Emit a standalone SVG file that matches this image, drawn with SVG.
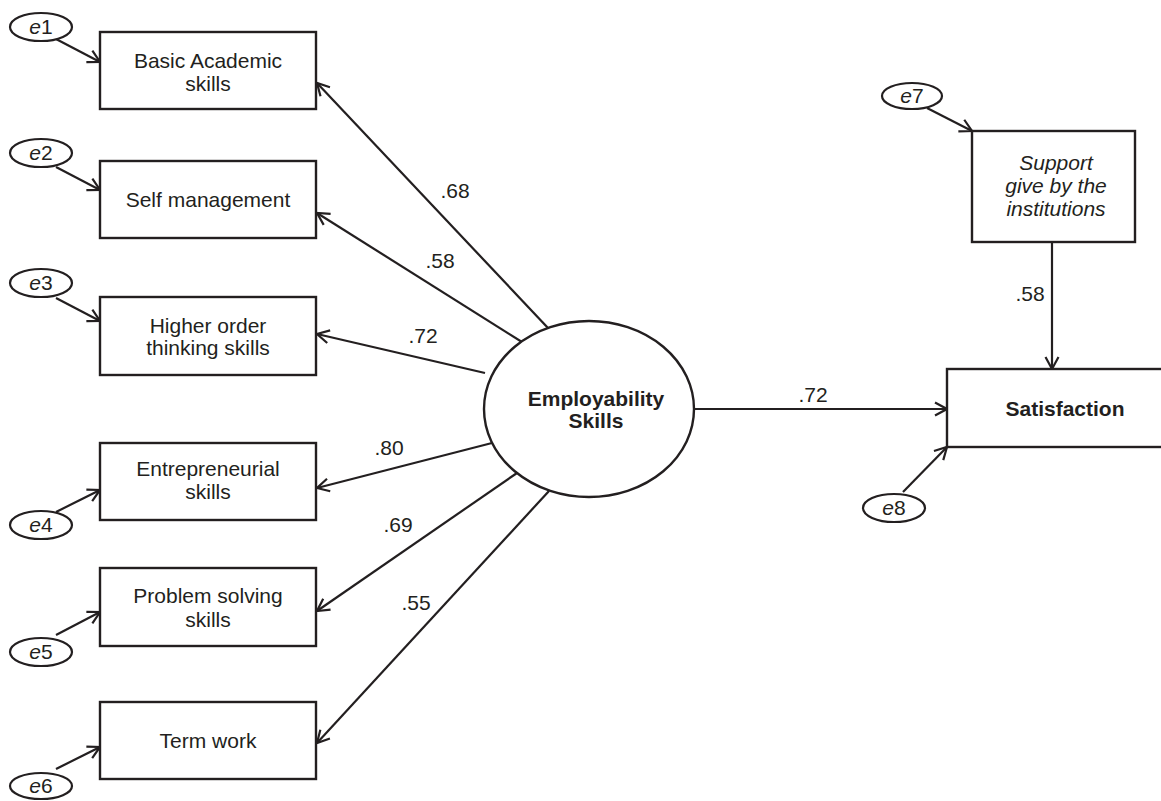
<svg xmlns="http://www.w3.org/2000/svg" width="1161" height="801" viewBox="0 0 1161 801">
<defs>
<marker id="ah" markerUnits="userSpaceOnUse" markerWidth="16" markerHeight="16" viewBox="0 0 16 16" refX="14" refY="8" orient="auto">
<path d="M2,1.5 L14,8 L2,14.5" fill="none" stroke="#231f20" stroke-width="2.2"/>
</marker>
</defs>
<style>
.box{fill:#fff;stroke:#231f20;stroke-width:2.4}
.err{fill:#fff;stroke:#231f20;stroke-width:2.2}
.t{font-family:"Liberation Sans",Arial,sans-serif;font-size:21px;fill:#231f20;text-anchor:middle}
.b{font-weight:bold}
.i{font-style:italic}
.c line{stroke:#231f20;stroke-width:2.2;marker-end:url(#ah)}
</style>
<rect width="1161" height="801" fill="#fff"/>
<g class="c" id="connectors">
<line x1="548" y1="328" x2="317" y2="83"/>
<line x1="522" y1="342" x2="317" y2="213"/>
<line x1="485" y1="373" x2="317" y2="334"/>
<line x1="492" y1="443" x2="317" y2="488"/>
<line x1="517" y1="473" x2="317" y2="611"/>
<line x1="549" y1="491" x2="317" y2="743"/>
<line x1="694" y1="409" x2="947" y2="409"/>
<line x1="1052" y1="242" x2="1052" y2="369"/>
<line x1="56" y1="39" x2="100" y2="62"/>
<line x1="56" y1="167" x2="100" y2="190"/>
<line x1="56" y1="298" x2="100" y2="321"/>
<line x1="56" y1="512" x2="100" y2="490"/>
<line x1="56" y1="635" x2="100" y2="612"/>
<line x1="56" y1="769" x2="100" y2="747"/>
<line x1="927" y1="108" x2="972" y2="131"/>
<line x1="903" y1="492" x2="947" y2="447"/>
</g>
<g id="labels" class="t">
<text x="455" y="198">.68</text>
<text x="440" y="268">.58</text>
<text x="423" y="343">.72</text>
<text x="389" y="455">.80</text>
<text x="398" y="532">.69</text>
<text x="416" y="610">.55</text>
<text x="813" y="402">.72</text>
<text x="1030" y="301">.58</text>
</g>
<g id="basic"><rect class="box" x="100" y="32" width="216" height="77"/><text class="t" x="208" y="68">Basic Academic</text><text class="t" x="208" y="91">skills</text></g>
<g id="self"><rect class="box" x="100" y="161" width="216" height="77"/><text class="t" x="208" y="207">Self management</text></g>
<g id="higher"><rect class="box" x="100" y="297" width="216" height="78"/><text class="t" x="208" y="333">Higher order</text><text class="t" x="208" y="355">thinking skills</text></g>
<g id="entre"><rect class="box" x="100" y="443" width="216" height="77"/><text class="t" x="208" y="476">Entrepreneurial</text><text class="t" x="208" y="499">skills</text></g>
<g id="problem"><rect class="box" x="100" y="568" width="216" height="78"/><text class="t" x="208" y="603">Problem solving</text><text class="t" x="208" y="627">skills</text></g>
<g id="term"><rect class="box" x="100" y="702" width="216" height="77"/><text class="t" x="208" y="748">Term work</text></g>
<g id="employ"><ellipse class="box" cx="589" cy="409" rx="105" ry="88"/><text class="t b" x="596" y="406">Employability</text><text class="t b" x="596" y="428">Skills</text></g>
<g id="support"><rect class="box" x="972" y="131" width="163" height="111"/><text class="t i" x="1056" y="170">Support</text><text class="t i" x="1056" y="193">give by the</text><text class="t i" x="1056" y="216">institutions</text></g>
<g id="satisfaction"><rect class="box" x="947" y="369" width="230" height="78"/><text class="t b" x="1065" y="416">Satisfaction</text></g>
<g id="e1"><ellipse class="err" cx="41" cy="27" rx="31" ry="14"/><text class="t" x="41" y="34"><tspan class="i">e</tspan>1</text></g>
<g id="e2"><ellipse class="err" cx="41" cy="153" rx="31" ry="14"/><text class="t" x="41" y="160"><tspan class="i">e</tspan>2</text></g>
<g id="e3"><ellipse class="err" cx="41" cy="283" rx="31" ry="14"/><text class="t" x="41" y="290"><tspan class="i">e</tspan>3</text></g>
<g id="e4"><ellipse class="err" cx="41" cy="525" rx="31" ry="14"/><text class="t" x="41" y="532"><tspan class="i">e</tspan>4</text></g>
<g id="e5"><ellipse class="err" cx="41" cy="652" rx="31" ry="14"/><text class="t" x="41" y="659"><tspan class="i">e</tspan>5</text></g>
<g id="e6"><ellipse class="err" cx="41" cy="786" rx="31" ry="13"/><text class="t" x="41" y="793"><tspan class="i">e</tspan>6</text></g>
<g id="e7"><ellipse class="err" cx="912" cy="96" rx="30" ry="13"/><text class="t" x="912" y="103"><tspan class="i">e</tspan>7</text></g>
<g id="e8"><ellipse class="err" cx="894" cy="508" rx="31" ry="14"/><text class="t" x="894" y="515"><tspan class="i">e</tspan>8</text></g>
</svg>
